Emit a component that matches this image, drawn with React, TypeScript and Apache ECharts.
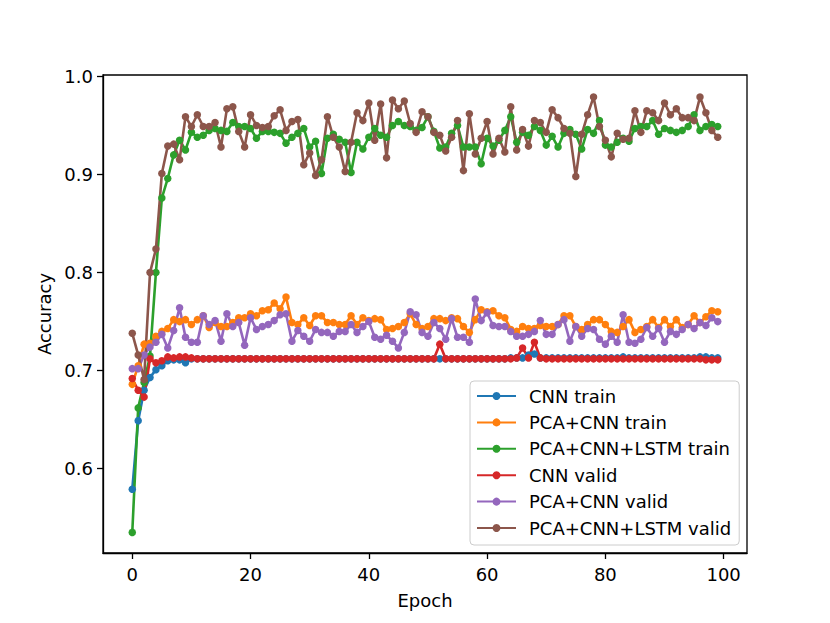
import React, { useEffect, useRef } from "react";
import * as echarts from "echarts";

const epochs: number[] = Array.from({ length: 100 }, (_, i) => i);

const cnnTrain: number[] = [
  0.579, 0.649, 0.680, 0.693, 0.701, 0.705, 0.710, 0.711, 0.711, 0.708,
  0.712, 0.712, 0.712, 0.712, 0.712, 0.712, 0.712, 0.712, 0.712, 0.712,
  0.712, 0.712, 0.712, 0.712, 0.712, 0.712, 0.712, 0.712, 0.712, 0.712,
  0.712, 0.712, 0.712, 0.712, 0.712, 0.712, 0.712, 0.712, 0.712, 0.712,
  0.712, 0.712, 0.712, 0.712, 0.712, 0.712, 0.712, 0.712, 0.712, 0.712,
  0.712, 0.712, 0.712, 0.712, 0.712, 0.712, 0.712, 0.712, 0.712, 0.712,
  0.712, 0.712, 0.712, 0.712, 0.713, 0.713, 0.713, 0.716, 0.717, 0.713,
  0.713, 0.713, 0.713, 0.713, 0.713, 0.713, 0.713, 0.713, 0.713, 0.713,
  0.713, 0.713, 0.713, 0.714, 0.713, 0.713, 0.713, 0.713, 0.713, 0.713,
  0.713, 0.713, 0.713, 0.713, 0.713, 0.713, 0.714, 0.714, 0.713, 0.713,
];

const pcaCnnTrain: number[] = [
  0.686, 0.705, 0.727, 0.728, 0.735, 0.740, 0.743, 0.752, 0.750, 0.752,
  0.747, 0.752, 0.756, 0.744, 0.749, 0.745, 0.745, 0.749, 0.754, 0.754,
  0.758, 0.756, 0.761, 0.762, 0.769, 0.763, 0.775, 0.749, 0.747, 0.754,
  0.746, 0.756, 0.756, 0.749, 0.749, 0.747, 0.747, 0.756, 0.747, 0.754,
  0.751, 0.753, 0.752, 0.742, 0.743, 0.745, 0.749, 0.758, 0.747, 0.743,
  0.745, 0.753, 0.753, 0.751, 0.754, 0.753, 0.745, 0.739, 0.752, 0.762,
  0.760, 0.761, 0.756, 0.754, 0.742, 0.740, 0.745, 0.743, 0.743, 0.746,
  0.745, 0.745, 0.747, 0.756, 0.756, 0.745, 0.742, 0.747, 0.752, 0.752,
  0.747, 0.740, 0.739, 0.745, 0.752, 0.739, 0.742, 0.745, 0.752, 0.744,
  0.752, 0.745, 0.752, 0.744, 0.747, 0.756, 0.749, 0.755, 0.761, 0.760,
];

const lstmTrain: number[] = [
  0.535, 0.662, 0.688, 0.715, 0.800, 0.876, 0.896, 0.920, 0.935, 0.925,
  0.943, 0.938, 0.940, 0.945, 0.947, 0.945, 0.944, 0.953, 0.949, 0.949,
  0.947, 0.937, 0.944, 0.944, 0.943, 0.942, 0.932, 0.938, 0.942, 0.947,
  0.928, 0.934, 0.901, 0.937, 0.941, 0.936, 0.933, 0.902, 0.933, 0.926,
  0.938, 0.947, 0.940, 0.938, 0.950, 0.954, 0.950, 0.949, 0.945, 0.948,
  0.959, 0.944, 0.927, 0.928, 0.942, 0.950, 0.928, 0.928, 0.928, 0.911,
  0.937, 0.929, 0.935, 0.945, 0.959, 0.933, 0.943, 0.940, 0.949, 0.945,
  0.930, 0.939, 0.928, 0.942, 0.946, 0.941, 0.926, 0.946, 0.942, 0.955,
  0.930, 0.928, 0.933, 0.937, 0.934, 0.947, 0.949, 0.949, 0.955, 0.941,
  0.947, 0.945, 0.943, 0.945, 0.949, 0.961, 0.945, 0.949, 0.951, 0.949,
];

const cnnValid: number[] = [
  0.692, 0.680, 0.673, 0.712, 0.708, 0.710, 0.714, 0.713, 0.714, 0.714,
  0.713, 0.712, 0.712, 0.712, 0.712, 0.712, 0.712, 0.712, 0.712, 0.712,
  0.712, 0.712, 0.712, 0.712, 0.712, 0.712, 0.712, 0.712, 0.712, 0.712,
  0.712, 0.712, 0.712, 0.712, 0.712, 0.712, 0.712, 0.712, 0.712, 0.712,
  0.712, 0.712, 0.712, 0.712, 0.712, 0.712, 0.712, 0.712, 0.712, 0.712,
  0.712, 0.712, 0.727, 0.712, 0.712, 0.712, 0.712, 0.712, 0.712, 0.712,
  0.712, 0.712, 0.712, 0.712, 0.712, 0.713, 0.723, 0.713, 0.729, 0.713,
  0.712, 0.712, 0.712, 0.712, 0.712, 0.712, 0.712, 0.712, 0.712, 0.712,
  0.712, 0.712, 0.712, 0.712, 0.712, 0.712, 0.712, 0.712, 0.712, 0.712,
  0.712, 0.712, 0.712, 0.712, 0.712, 0.712, 0.712, 0.711, 0.711, 0.711,
];

const pcaCnnValid: number[] = [
  0.702, 0.702, 0.716, 0.724, 0.729, 0.737, 0.723, 0.741, 0.764, 0.734,
  0.729, 0.729, 0.756, 0.747, 0.751, 0.730, 0.758, 0.745, 0.749, 0.726,
  0.754, 0.742, 0.745, 0.747, 0.751, 0.757, 0.758, 0.730, 0.741, 0.735,
  0.730, 0.742, 0.739, 0.739, 0.735, 0.740, 0.740, 0.747, 0.739, 0.745,
  0.750, 0.734, 0.732, 0.736, 0.730, 0.723, 0.739, 0.760, 0.757, 0.739,
  0.735, 0.749, 0.743, 0.732, 0.753, 0.734, 0.734, 0.729, 0.773, 0.751,
  0.759, 0.746, 0.745, 0.745, 0.740, 0.735, 0.735, 0.737, 0.740, 0.751,
  0.737, 0.737, 0.747, 0.752, 0.730, 0.745, 0.735, 0.743, 0.742, 0.732,
  0.727, 0.735, 0.729, 0.757, 0.729, 0.728, 0.732, 0.744, 0.735, 0.743,
  0.729, 0.740, 0.737, 0.742, 0.747, 0.743, 0.749, 0.746, 0.754, 0.750,
];

const lstmValid: number[] = [
  0.738, 0.716, 0.691, 0.800, 0.824, 0.901, 0.929, 0.931, 0.915, 0.959,
  0.949, 0.961, 0.949, 0.949, 0.953, 0.928, 0.967, 0.969, 0.944, 0.928,
  0.961, 0.950, 0.948, 0.949, 0.960, 0.966, 0.945, 0.954, 0.956, 0.910,
  0.922, 0.899, 0.915, 0.959, 0.938, 0.928, 0.903, 0.933, 0.963, 0.955,
  0.973, 0.935, 0.972, 0.917, 0.976, 0.967, 0.975, 0.952, 0.943, 0.964,
  0.959, 0.943, 0.940, 0.924, 0.938, 0.955, 0.904, 0.962, 0.921, 0.937,
  0.954, 0.921, 0.937, 0.923, 0.969, 0.925, 0.946, 0.929, 0.955, 0.953,
  0.943, 0.966, 0.958, 0.947, 0.942, 0.898, 0.941, 0.961, 0.979, 0.949,
  0.935, 0.918, 0.942, 0.936, 0.937, 0.965, 0.943, 0.965, 0.963, 0.955,
  0.973, 0.961, 0.967, 0.958, 0.958, 0.955, 0.979, 0.963, 0.945, 0.938,
];

const seriesNames: string[] = [
  "CNN train",
  "PCA+CNN train",
  "PCA+CNN+LSTM train",
  "CNN valid",
  "PCA+CNN valid",
  "PCA+CNN+LSTM valid",
];
const seriesValues: number[][] = [cnnTrain, pcaCnnTrain, lstmTrain, cnnValid, pcaCnnValid, lstmValid];
const seriesColors: string[] = ["#1f77b4", "#ff7f0e", "#2ca02c", "#d62728", "#9467bd", "#8c564b"];

const xTicks: number[] = [0, 20, 40, 60, 80, 100];
const yTicks: number[] = [0.6, 0.7, 0.8, 0.9, 1.0];

const FONT = "DejaVu Sans";
const FS = 18;

export default function App() {
  const ref = useRef<HTMLDivElement>(null);
  useEffect(() => {
    if (!ref.current) return;
    const chart = echarts.init(ref.current, undefined, { renderer: "svg" });
    const axisCommon = {
      axisLine: { show: true, onZero: false, lineStyle: { color: "#000", width: 1.3 } },
      axisTick: { show: true, inside: false, length: 6, lineStyle: { color: "#000", width: 1.3 } },
      splitLine: { show: false },
    };
    chart.setOption({
      animation: false,
      backgroundColor: "#fff",
      grid: {
        left: 103,
        right: 83,
        top: 75,
        bottom: 70,
        show: true,
        borderColor: "#000",
        borderWidth: 1.3,
        backgroundColor: "transparent",
        containLabel: false,
      },
      xAxis: {
        type: "value",
        min: -4.95,
        max: 103.95,
        ...axisCommon,
        axisTick: { ...axisCommon.axisTick, customValues: xTicks },
        axisLabel: {
          customValues: xTicks,
          margin: 12,
          color: "#000",
          fontFamily: FONT,
          fontSize: FS,
        },
        name: "Epoch",
        nameLocation: "middle",
        nameGap: 38,
        nameTextStyle: { color: "#000", fontFamily: FONT, fontSize: FS },
      },
      yAxis: {
        type: "value",
        min: 0.514,
        max: 1.0015,
        ...axisCommon,
        axisTick: { ...axisCommon.axisTick, customValues: yTicks },
        axisLabel: {
          customValues: yTicks,
          margin: 10,
          color: "#000",
          fontFamily: FONT,
          fontSize: FS,
          formatter: (v: number) => v.toFixed(1),
        },
        name: "Accuracy",
        nameLocation: "middle",
        nameGap: 49,
        nameRotate: 90,
        nameTextStyle: { color: "#000", fontFamily: FONT, fontSize: FS },
      },
      legend: {
        show: true,
        orient: "vertical",
        left: 470,
        top: 381,
        padding: [6, 8, 8, 6],
        itemWidth: 39,
        itemHeight: 10,
        itemGap: 8.4,
        backgroundColor: "rgba(255,255,255,0.8)",
        borderColor: "#cccccc",
        borderWidth: 1,
        borderRadius: 4,
        selectedMode: false,
        textStyle: {
          color: "#000",
          fontFamily: FONT,
          fontSize: FS,
          lineHeight: 18,
          padding: [0, 0, 0, 8],
        },
        data: seriesNames,
      },
      series: seriesNames.map((name, si) => ({
        name,
        type: "line",
        data: epochs.map((e, i) => [e, seriesValues[si][i]]),
        symbol: "circle",
        symbolSize: 7.5,
        showSymbol: true,
        showAllSymbol: true,
        silent: true,
        color: seriesColors[si],
        itemStyle: { color: seriesColors[si] },
        lineStyle: { color: seriesColors[si], width: 2.6 },
        emphasis: { disabled: true },
      })),
    });
    return () => chart.dispose();
  }, []);
  return (
    <div
      ref={ref}
      style={{ position: "absolute", left: 0, top: 0, width: 830, height: 623 }}
    />
  );
}
